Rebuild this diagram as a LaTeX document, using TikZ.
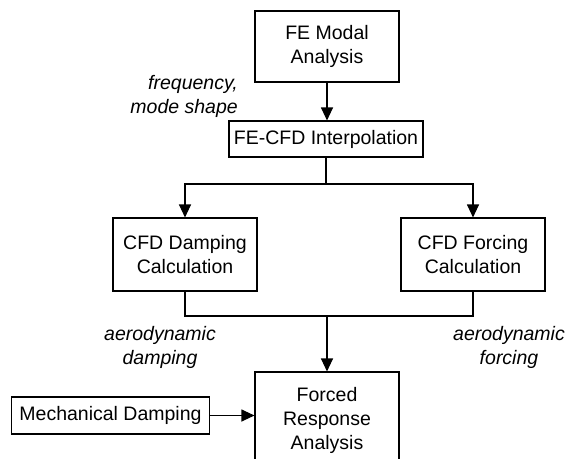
\documentclass[tikz,border=0pt]{standalone}
\usepackage{fontspec}
\setmainfont{Liberation Sans}
\usetikzlibrary{arrows.meta}
\begin{document}
\begin{tikzpicture}[x=1pt,y=-1pt,
  box/.style={draw, line width=1.1pt, rectangle, inner sep=0pt, align=center,
    font=\fontsize{19.5}{24}\selectfont},
  lbl/.style={inner sep=0pt, font=\fontsize{19.5}{24}\selectfont\itshape},
  conn/.style={line width=1.1pt},
  arr/.style={conn, -{Triangle[length=13pt,width=12pt]}}]
\useasboundingbox (0,0) rectangle (567,458);
\node[box, minimum width=144pt, minimum height=71pt] (fem) at (327,46.5) {FE Modal\\Analysis};
\node[box, minimum width=194pt, minimum height=36pt] (interp) at (326,139) {FE-CFD Interpolation};
\node[box, minimum width=144pt, minimum height=73pt] (damp) at (185,254.5) {CFD Damping\\Calculation};
\node[box, minimum width=144pt, minimum height=73pt] (forc) at (473,254.5) {CFD Forcing\\Calculation};
\node[box, minimum width=144pt, minimum height=96pt] (forced) at (327,420) {Forced\\Response\\Analysis};
\node[box, minimum width=198pt, minimum height=37pt] (mech) at (110.5,415.5) {Mechanical Damping};
\coordinate (j1) at (326,184);
\coordinate (j2) at (327,316);
\node[lbl, align=right, anchor=east] (lf) at (238,96) {frequency,\\mode shape};
\node[lbl, align=center] (ld) at (160,347) {aerodynamic\\damping};
\node[lbl, align=center] (lfo) at (509,347) {aerodynamic\\forcing};
\draw[arr] (fem.south) -- (fem.south |- interp.north);
\draw[conn] (interp.south) -- (j1);
\draw[arr] (j1) -| (damp.north);
\draw[arr] (j1) -| (forc.north);
\draw[conn] (damp.south) |- (j2);
\draw[conn] (forc.south) |- (j2);
\draw[arr] (j2) -- (forced.north);
\draw[arr] (mech.east) -- (mech.east -| forced.west);
\end{tikzpicture}
\end{document}
